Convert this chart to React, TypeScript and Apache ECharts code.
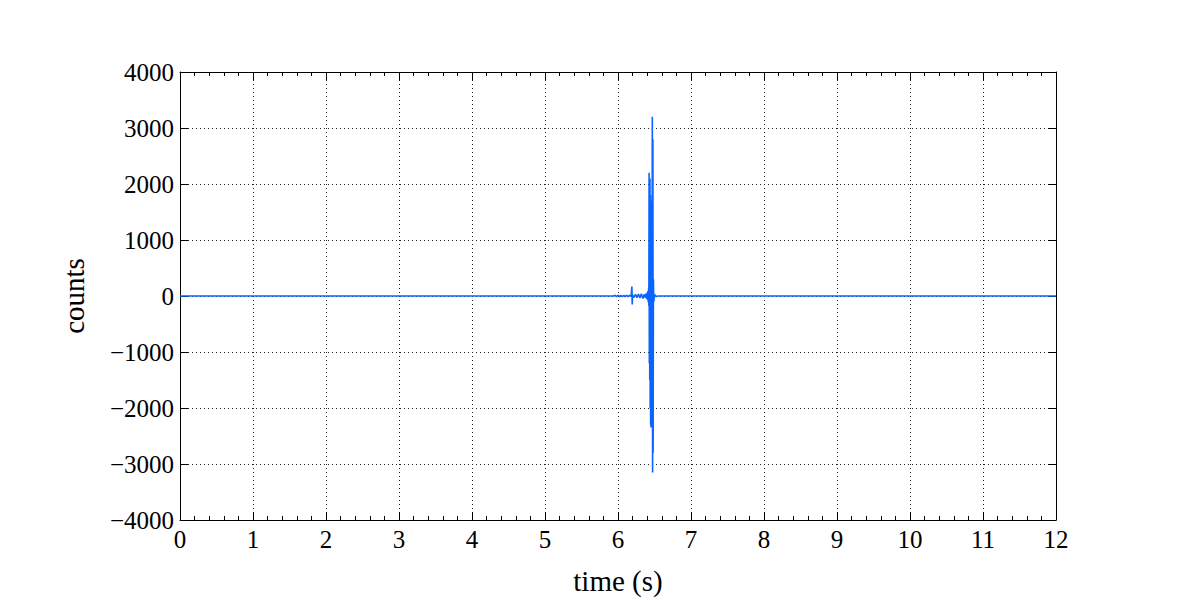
import React, { useEffect, useRef } from "react";
import * as echarts from "echarts";

const xTicks = [0, 1, 2, 3, 4, 5, 6, 7, 8, 9, 10, 11, 12];
const yTicks = [-4000, -3000, -2000, -1000, 0, 1000, 2000, 3000, 4000];

// time (s)
const times = [
  0, 5.94, 5.96, 5.98, 6.0, 6.02, 6.04, 6.06, 6.08, 6.1, 6.12, 6.14, 6.16, 6.18,
  6.19, 6.195, 6.2, 6.22, 6.24, 6.26, 6.28, 6.3, 6.32, 6.34, 6.36, 6.37, 6.38, 6.39,
  6.4, 6.405, 6.41, 6.415, 6.42, 6.423, 6.426, 6.429, 6.432, 6.435, 6.438, 6.441,
  6.444, 6.447, 6.45, 6.453, 6.456, 6.459, 6.462, 6.466, 6.47, 6.474, 6.478, 6.481,
  6.485, 6.49, 6.5, 6.52, 6.55, 12,
];
// counts
const counts = [
  0, 0, 12, -10, 14, -12, 10, -14, 12, -10, 14, -12, 10, -8,
  170, -150, 20, -25, 30, -30, 35, -35, 40, -45, 30, -30, 40, -45,
  60, -70, 90, -110, 150, -180, 2200, -1200, 1900, -1500, 2100, -2000,
  1800, -2300, 1700, -2350, 1500, -2200, 1600, -1900, 3200, -3150, 2800, -2800,
  300, -100, 30, -10, 0, 0,
];

const fmt = (v: number) => (v < 0 ? "\u2212" + Math.abs(v) : String(v));
const FONT = "Liberation Serif";

export default function App() {
  const ref = useRef<HTMLDivElement>(null);
  useEffect(() => {
    if (!ref.current) return;
    const chart = echarts.init(ref.current, undefined, { renderer: "svg" });
    const data = times.map((t, i) => [t, counts[i]]);
    const axisLine = { show: true, onZero: false, lineStyle: { color: "#000", width: 1 } };
    const split = { show: true, lineStyle: { color: "#222", type: [1, 3] as any, width: 1 } };
    const label = { color: "#000", fontFamily: FONT, fontSize: 25 };
    const tick = { show: true, inside: true, length: 8, lineStyle: { color: "#000" } };
    chart.setOption({
      animation: false,
      backgroundColor: "#fff",
      grid: { left: 180, right: 144, top: 72, bottom: 78, containLabel: false },
      xAxis: [
        {
          type: "value",
          min: xTicks[0],
          max: xTicks[xTicks.length - 1],
          interval: 1,
          name: "time (s)",
          nameLocation: "middle",
          nameGap: 46,
          nameTextStyle: { color: "#000", fontFamily: FONT, fontSize: 29 },
          axisLine,
          axisTick: tick,
          minorTick: { show: true, splitNumber: 5, length: 4, lineStyle: { color: "#000" } },
          axisLabel: { ...label, margin: 7 },
          splitLine: split,
        },
        {
          type: "value",
          position: "top",
          min: xTicks[0],
          max: xTicks[xTicks.length - 1],
          interval: 1,
          axisLine,
          axisTick: tick,
          minorTick: { show: true, splitNumber: 5, length: 4, lineStyle: { color: "#000" } },
          axisLabel: { show: false },
          splitLine: { show: false },
        },
      ],
      yAxis: [
        {
          type: "value",
          min: yTicks[0],
          max: yTicks[yTicks.length - 1],
          interval: 1000,
          name: "counts",
          nameLocation: "middle",
          nameGap: 92,
          nameRotate: 90,
          nameTextStyle: { color: "#000", fontFamily: FONT, fontSize: 29 },
          axisLine,
          axisTick: tick,
          axisLabel: { ...label, margin: 6, formatter: fmt },
          splitLine: split,
        },
        {
          type: "value",
          position: "right",
          min: yTicks[0],
          max: yTicks[yTicks.length - 1],
          interval: 1000,
          axisLine,
          axisTick: tick,
          axisLabel: { show: false },
          splitLine: { show: false },
        },
      ],
      series: [
        {
          type: "line",
          data,
          showSymbol: false,
          lineStyle: { color: "#0a64ff", width: 1.6 },
          xAxisIndex: 0,
          yAxisIndex: 0,
        },
      ],
    });
    return () => chart.dispose();
  }, []);
  return (
    <div
      ref={ref}
      style={{ position: "fixed", left: 0, top: 0, width: 1200, height: 600 }}
    />
  );
}
